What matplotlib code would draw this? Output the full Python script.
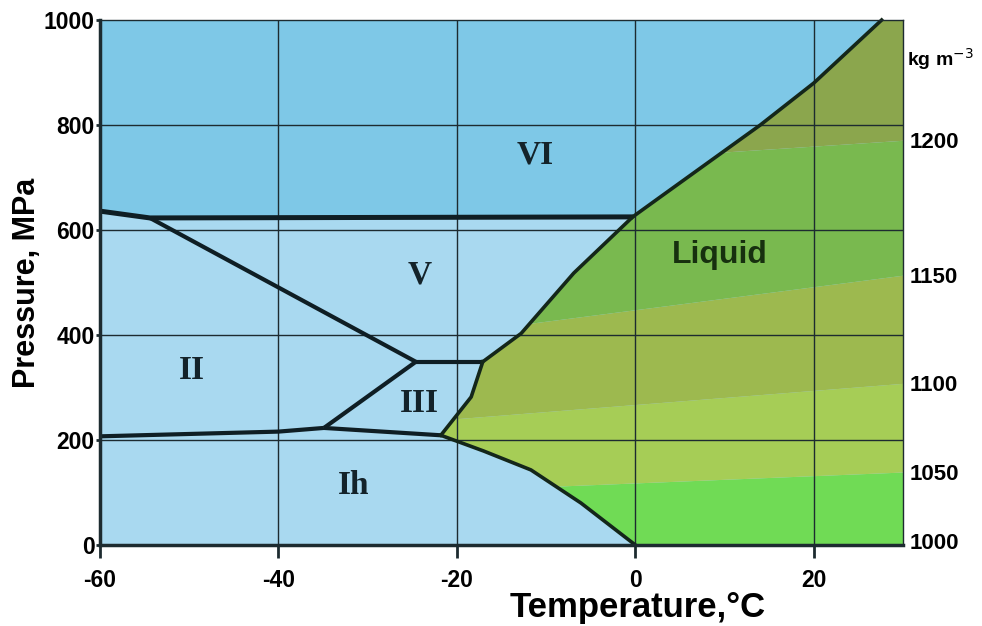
import numpy as np
import matplotlib
matplotlib.use("Agg")
import matplotlib.pyplot as plt
from matplotlib.patches import Polygon

plt.rcParams["axes.unicode_minus"] = False

# --- phase boundaries (temperature degC, pressure MPa) ---
vi_v_T = [-60, -54.4, -0.3]
vi_v_P = [636, 623, 625]
ii_v_T = [-54.4, -24.6]
ii_v_P = [623, 349]
v_iii_T = [-24.6, -17.1]
v_iii_P = [349, 349]
ii_iii_T = [-34.9, -24.6]
ii_iii_P = [223, 349]
ih_ii_T = [-60, -40, -34.9]
ih_ii_P = [207, 216, 223]
ih_iii_T = [-34.9, -21.8]
ih_iii_P = [223, 209]
melt_ih_T = [-21.8, -17, -11.7, -6.1, 0]
melt_ih_P = [209, 179, 143, 80, 0]
melt_iii_T = [-21.8, -18.4, -17.1]
melt_iii_P = [209, 282, 349]
melt_v_T = [-17.1, -12.8, -6.9, -0.3]
melt_v_P = [349, 403, 518, 625]
melt_vi_T = [-0.3, 2.8, 14, 20, 27.6]
melt_vi_P = [625, 663, 800, 880, 1000]

# liquid density contours: pressure at T=-22 and T=30
density_vals = [1000, 1050, 1100, 1150, 1200]
contour_P_left = [-50, 103, 238, 400, 713]
contour_P_right = [8, 139, 308, 514, 771]
band_colors = ["#70db55", "#a6cd56", "#9db94f", "#79b94f", "#8ba64d"]

region_labels = ["VI", "V", "II", "III", "Ih"]
region_T = [-11.2, -24.2, -49.7, -24.2, -31.6]
region_P = [743, 514, 333, 270, 114]

fig = plt.figure(figsize=(9.82, 6.26), dpi=100)
ax = fig.add_axes([0.1018, 0.1294, 0.8178, 0.8386])
ax.set_xlim(-60, 30)
ax.set_ylim(0, 1000)
ax.set_facecolor("#a9d9f0")

# ice VI region, darker blue
vi_T = vi_v_T + melt_vi_T[1:] + [-60]
vi_P = vi_v_P + melt_vi_P[1:] + [1000]
ax.fill(vi_T, vi_P, color="#7ec8e7", lw=0, zorder=1)

# liquid region with density bands
liq_T = melt_iii_T + melt_v_T[1:] + melt_vi_T[1:] + [30, 30] + melt_ih_T[::-1][:-1]
liq_P = melt_iii_P + melt_v_P[1:] + melt_vi_P[1:] + [1000, 0] + melt_ih_P[::-1][:-1]
liq_patch = Polygon(np.column_stack([liq_T, liq_P]), closed=True,
                    facecolor="none", edgecolor="none", transform=ax.transData)
ax.add_patch(liq_patch)

tt = np.array([-22, 30])
for i, c in enumerate(band_colors):
    lo = np.array([contour_P_left[i], contour_P_right[i]])
    if i + 1 < len(band_colors):
        hi = np.array([contour_P_left[i + 1], contour_P_right[i + 1]])
    else:
        hi = np.array([1100, 1100])
    if i == 0:
        lo = np.array([-100, -100])
    pc = ax.fill_between(tt, lo, hi, color=c, lw=0, zorder=2)
    pc.set_clip_path(liq_patch)

# grid
for x in [-40, -20, 0, 20]:
    ax.axvline(x, color="#1d2b30", lw=1.0, zorder=3)
for y in [200, 400, 600, 800]:
    ax.axhline(y, color="#1d2b30", lw=1.0, zorder=3)

# phase boundaries
ice_col = "#0f1e24"
for T, P in [(ii_v_T, ii_v_P), (v_iii_T, v_iii_P),
             (ii_iii_T, ii_iii_P), (ih_ii_T, ih_ii_P), (ih_iii_T, ih_iii_P)]:
    ax.plot(T, P, color=ice_col, lw=3.0, solid_capstyle="butt", zorder=5)
ax.plot(vi_v_T, vi_v_P, color=ice_col, lw=3.6, solid_capstyle="butt", zorder=5)
melt_col = "#14261a"
for T, P in [(melt_ih_T, melt_ih_P), (melt_iii_T, melt_iii_P),
             (melt_v_T, melt_v_P), (melt_vi_T, melt_vi_P)]:
    ax.plot(T, P, color=melt_col, lw=2.6, zorder=5, clip_on=False)

for lab, T, P in zip(region_labels, region_T, region_P):
    ax.text(T, P, lab, family="Liberation Serif", weight="bold", fontsize=24,
            color="#14232a", ha="center", va="center", zorder=6)
ax.text(9.5, 552, "Liquid", family="Liberation Sans", weight="bold", fontsize=23,
        color="#17300f", ha="center", va="center", zorder=6)

# axes styling
ax.set_xticks([-60, -40, -20, 0, 20])
ax.set_yticks([0, 200, 400, 600, 800, 1000])
ax.tick_params(axis="x", direction="out", length=9, width=2, color="#1d2b30",
               labelsize=16.5, pad=8)
ax.tick_params(axis="y", direction="out", length=3, width=2, color="#1d2b30",
               labelsize=16.5, pad=1)
for lbl in ax.get_xticklabels() + ax.get_yticklabels():
    lbl.set_family("Liberation Sans")
    lbl.set_weight("bold")
ax.spines["left"].set_linewidth(2.5)
ax.spines["bottom"].set_linewidth(2.5)
ax.spines["top"].set_linewidth(1.0)
ax.spines["right"].set_linewidth(1.0)
for s in ax.spines.values():
    s.set_color("#1d2b30")
    s.set_zorder(7)

ax.set_xlabel("Temperature,°C", family="Liberation Sans", weight="bold", fontsize=25)
ax.xaxis.set_label_coords(0.67, -0.088)
ax.set_ylabel("Pressure, MPa", family="Liberation Sans", weight="bold", fontsize=22)
ax.yaxis.set_label_coords(-0.072, 0.5)

# density scale on the right
ax2 = ax.twinx()
ax2.set_ylim(0, 1000)
ax2.set_yticks(contour_P_right)
ax2.set_yticklabels([str(d) for d in density_vals])
ax2.tick_params(axis="y", length=0, pad=5, labelsize=16)
for lbl in ax2.get_yticklabels():
    lbl.set_family("Liberation Sans")
    lbl.set_weight("bold")
for s in ax2.spines.values():
    s.set_visible(False)
ax2.text(1.005, 0.925, "kg m$^{-3}$", transform=ax.transAxes, family="Liberation Sans",
         weight="bold", fontsize=14, ha="left", va="center")

fig.savefig("out.png", dpi=100)
